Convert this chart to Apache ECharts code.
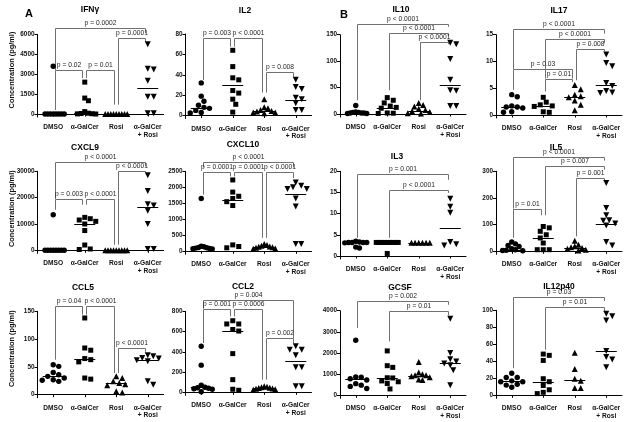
<!DOCTYPE html>
<html><head><meta charset="utf-8">
<script src="https://cdn.jsdelivr.net/npm/echarts@6/dist/echarts.min.js"></script>
<style>html,body{margin:0;padding:0;background:#fff}#c{width:632px;height:422px}</style>
</head><body><div id="c"></div>
<script>
const categories = ['DMSO', 'α-GalCer', 'Rosi', 'α-GalCer\n+ Rosi'];

// ---- IFNγ ----
const ifngValues = [[3600,0,0,0,0,0,0,0,0],[2400,1200,1000,180,60,40,20,10,0],[0,0,0,0,0,0,0,0,0],[5250,3400,3350,2500,1300,1300,50,50]];
const ifngCenters = [0, 40, 0, 1925];
const ifngTicks = [0,1500,3000,4500,6000];
const ifngTests = [[0,3,6475,3300,6100,'p = 0.0002'],[2,3,5725,700,5450,'p = 0.0001'],[0,1,3300,300,2700,'p = 0.02'],[1,2,3300,2700,700,'p = 0.01']];
// ---- IL2 ----
const il2Values = [[32,19,14,10,8,7,5,3,2.5],[64,48,37,35,24.5,22,16,11,3.3],[16,8,7,5.5,4.5,4,3,3,2.3],[35,28,26,17.5,16,12,5.5,5.5]];
const il2Centers = [7.5, 29.5, 4.5, 15];
const il2Ticks = [0,20,40,60,80];
const il2Tests = [[0,1,75.8,35,67.6,'p = 0.003'],[1,2,75.8,67.6,22.5,'p < 0.0001'],[2,3,43,22.5,38,'p = 0.008']];
// ---- IL10 ----
const il10Values = [[16,4,3,3,2,2,2,1,1],[31,26,21,15,12.5,11,2,1.5,1],[21,17,14,10,7.5,5,4,1.5,1],[135,132,104,65,45,44,15,15]];
const il10Centers = [2.5, 10.7, 6.5, 54];
const il10Ticks = [0,50,100,150];
const il10Tests = [[0,3,171,26,165,'p < 0.0001'],[1,3,154,45,147,'p < 0.0001'],[2,3,136,26,132,'p < 0.0001']];
// ---- IL17 ----
const il17Values = [[3.8,3.4,1.7,1.5,1.5,1.3,0.6,0.5],[3.3,2.4,1.9,1.7,1.6,0.6,0.5],[5.6,4.8,3.8,3.5,3.3,2.7,1.9,0.9],[11.3,9.7,9.1,6.0,5.4,4.5,4.2,4.1]];
const il17Centers = [1.5, 1.7, 3.3, 5.6];
const il17Ticks = [0,5,10,15];
const il17Tests = [[0,3,16.0,8.6,15.2,'p < 0.0001'],[1,3,14.2,6.8,13.4,'p < 0.0001'],[2,3,12.3,6.5,11.9,'p = 0.008'],[0,2,8.6,4.7,6.8,'p = 0.03'],[1,2,6.8,4.4,6.2,'p = 0.01']];
// ---- CXCL9 ----
const cxcl9Values = [[13500,0,0,0,0,0,0,0,0],[12500,12000,11500,11000,10000,7500,2000,500,300],[0,0,0,0,0,0,0,0,0],[28500,22500,17500,17000,15000,10000,500,500]];
const cxcl9Centers = [0, 10000, 0, 16500];
const cxcl9Ticks = [0,10000,20000,30000];
const cxcl9Tests = [[0,3,33500,19500,31900,'p < 0.0001'],[2,3,30000,2150,29400,'p < 0.0001'],[0,1,19500,15400,17300,'p = 0.003'],[1,2,19500,17300,2150,'p < 0.0001']];
// ---- CXCL10 ----
const cxcl10Values = [[1650,160,140,120,110,100,90,80,70],[2230,1850,1720,1650,1550,1430,200,150,110],[230,200,170,150,140,130,110,90,80],[2150,2050,2000,1950,1950,1650,1400,230,230]];
const cxcl10Centers = [125, 1600, 150, 1780];
const cxcl10Ticks = [0,500,1000,1500,2000,2500];
const cxcl10Tests = [[0,3,2790,2620,2620,'p < 0.0001'],[0,1,2470,1770,2340,'p = 0.0001'],[1,2,2470,2340,420,'p = 0.0001'],[2,3,2470,420,2290,'p < 0.0001']];
// ---- IL3 ----
const il3Values = [[3.5,3.3,3.2,3.2,3.2,3.2,3.1,2.1,1.9],[3.2,3.2,3.2,3.2,3.2,3.2,3.2,3.2,3.2,0.6],[3.1,3.1,3.1,3.1,3.1,3.1],[13.5,11.6,10.2,3.3,2.8,2.5]];
const il3Centers = [3.2, 3.2, 3.1, 6.7];
const il3Ticks = [0,5,10,15,20];
const il3Tests = [[0,3,19.3,4.3,18,'p = 0.001'],[1,3,15.7,4.3,14.9,'p < 0.0001']];
// ---- IL5 ----
const il5Values = [[35,28,22,18,10,6,4,3,2],[93,88,75,62,50,31,6,6,6],[40,25,19,15,12,10,6,3],[256,162,135,116,115,104,97,35,22]];
const il5Centers = [5, 50, 12.5, 104];
const il5Ticks = [0,100,200,300];
const il5Tests = [[0,3,354,160,340,'p < 0.0001'],[1,3,321,135,306,'p = 0.007'],[2,3,275,56,265,'p = 0.001'],[0,1,160,50,135,'p = 0.01']];
// ---- CCL5 ----
const ccl5Values = [[54,51,40,36,33,30,27,26,24],[138,84,80,65,63,59,30,28],[33,30,24,21,19,17,6,4],[71,69,66,65,62,60,24,18]];
const ccl5Centers = [33, 64, 21, 62];
const ccl5Ticks = [0,50,100,150];
const ccl5Tests = [[0,1,160,63,144,'p = 0.04'],[1,2,160,144,39,'p < 0.0001'],[2,3,84,39,77,'p < 0.0001']];
// ---- CCL2 ----
const ccl2Values = [[455,268,70,50,45,40,35,30,5],[707,675,675,620,605,382,125,30,20],[60,55,50,45,42,38,35,30,25],[455,420,420,365,247,247,60,60]];
const ccl2Centers = [50, 605, 43, 306];
const ccl2Ticks = [0,200,400,600,800];
const ccl2Tests = [[0,3,911,826,536,'p = 0.004'],[0,1,826,487,750,'p = 0.001'],[1,2,826,750,125,'p = 0.0006'],[2,3,536,125,487,'p = 0.002']];
// ---- GCSF ----
const gcsfValues = [[2600,870,850,780,720,550,480,420,320],[2100,1400,1320,830,820,680,640,560,300],[1580,1080,1000,950,950,900,850,750,720],[3620,2000,1700,1600,1500,1420,1180,480]];
const gcsfCenters = [770, 820, 930, 1520];
const gcsfTicks = [0,1000,2000,3000,4000];
const gcsfTests = [[0,3,4440,3180,4280,'p = 0.002'],[1,3,3970,2550,3780,'p = 0.01']];
// ---- IL12p40 ----
const il12Values = [[26,21,21,17,16,16,13,12,9.5],[48.5,47,41,19.5,16,11.5,6.5,3.5,2],[50,31,19.5,17,8.6,8.6],[96,93,88,52,45,42,33]];
const il12Centers = [16.5, 15.7, 18.3, 52];
const il12Ticks = [0,20,40,60,80,100];
const il12Tests = [[0,3,115.7,32,111,'p = 0.03'],[1,3,103.5,53.7,98.8,'p = 0.01']];

const panels = [
  {name:'IFNγ', values:ifngValues, centers:ifngCenters, ticks:ifngTicks, tests:ifngTests},
  {name:'IL2', values:il2Values, centers:il2Centers, ticks:il2Ticks, tests:il2Tests},
  {name:'IL10', values:il10Values, centers:il10Centers, ticks:il10Ticks, tests:il10Tests},
  {name:'IL17', values:il17Values, centers:il17Centers, ticks:il17Ticks, tests:il17Tests},
  {name:'CXCL9', values:cxcl9Values, centers:cxcl9Centers, ticks:cxcl9Ticks, tests:cxcl9Tests},
  {name:'CXCL10', values:cxcl10Values, centers:cxcl10Centers, ticks:cxcl10Ticks, tests:cxcl10Tests},
  {name:'IL3', values:il3Values, centers:il3Centers, ticks:il3Ticks, tests:il3Tests},
  {name:'IL5', values:il5Values, centers:il5Centers, ticks:il5Ticks, tests:il5Tests},
  {name:'CCL5', values:ccl5Values, centers:ccl5Centers, ticks:ccl5Ticks, tests:ccl5Tests},
  {name:'CCL2', values:ccl2Values, centers:ccl2Centers, ticks:ccl2Ticks, tests:ccl2Tests},
  {name:'GCSF', values:gcsfValues, centers:gcsfCenters, ticks:gcsfTicks, tests:gcsfTests},
  {name:'IL12p40', values:il12Values, centers:il12Centers, ticks:il12Ticks, tests:il12Tests}
];

// ---- layout (pixels) ----
const colLeft = [37.5, 185.5, 340, 496];
const plotW = 126;
const topPx  = [34.3,34,34.7,34.7, 171.3,171.3,171.3,171.3, 311.3,311.3,310.7,310.3];
const zeroPx = [114,115.5,114,115, 250.3,251.3,256,251.3, 394.7,392.3,395.3,395.3];
const titlePos = [[90,10],[245,10.7],[401,9.5],[559,10.7],[85,148],[243,145],[397,156.3],[556,148],[83,288],[243,286.3],[400,287.3],[559,286.3]];
const FONT = '"Liberation Sans", Arial, sans-serif';
const symbols = ['circle','rect','triangle','triangle'];
const symRot = [0,0,0,180];
const symSize = [5.4,5,6,6];

function swarm(vals, ppu) {
  const order = vals.map((v,i)=>i).sort((a,b)=>vals[b]-vals[a]);
  const off = new Array(vals.length).fill(0);
  const placed = [];
  const D = 5.6, step = 3;
  order.forEach(i => {
    const y = vals[i]*ppu;
    for (let k=0;k<60;k++) {
      const c = k===0 ? 0 : (k%2 ? 1 : -1)*Math.ceil(k/2)*step;
      if (placed.every(p => Math.hypot(p.x-c, p.y-y) >= D)) { off[i]=c; placed.push({x:c,y:y}); break; }
    }
  });
  const m = Math.max(...off.map(Math.abs));
  const cap = 11;
  if (m > cap) for (let i=0;i<off.length;i++) off[i] *= cap/m;
  return off;
}

const grids=[], xAxes=[], yAxes=[], series=[], graphics=[];
panels.forEach((p, i) => {
  const col = i%4;
  const top = topPx[i], zero = zeroPx[i];
  const max = p.ticks[p.ticks.length-1];
  const ppu = (zero-top)/max;
  const ext = 3;
  const min = -ext/ppu;
  grids.push({left: colLeft[col], top: top, width: plotW, height: zero-top+ext});
  xAxes.push({type:'category', gridIndex:i, data:categories, offset:2.5, boundaryGap:true,
    axisLine:{lineStyle:{color:'#000', width:1}},
    axisTick:{show:true, alignWithLabel:true, length:2.5, lineStyle:{color:'#000'}},
    axisLabel:{interval:0, color:'#111', fontSize:6.6, fontWeight:'bold', fontFamily:FONT, margin:4, lineHeight:7.5},
    splitLine:{show:false}});
  yAxes.push({type:'value', gridIndex:i, min:min, max:max,
    axisLine:{show:true, lineStyle:{color:'#000', width:1}},
    axisTick:{show:true, length:3, customValues:p.ticks, lineStyle:{color:'#000'}},
    axisLabel:{customValues:p.ticks, formatter:v => String(v), color:'#111', fontSize:6.4, fontWeight:'bold', fontFamily:FONT, margin:3},
    splitLine:{show:false}});
  // points
  const data = [];
  p.values.forEach((vals, g) => {
    const off = swarm(vals, ppu);
    vals.forEach((v, k) => data.push({value:[g, v], symbol:symbols[g], symbolRotate:symRot[g], symbolSize:symSize[g], symbolOffset:[off[k],0]}));
  });
  series.push({type:'scatter', xAxisIndex:i, yAxisIndex:i, data:data, itemStyle:{color:'#000', opacity:1}, z:3, silent:true, clip:false});
  // center lines
  series.push({type:'custom', xAxisIndex:i, yAxisIndex:i, z:4, clip:false, silent:true,
    data: p.centers.map((c,g)=>[g,c]),
    renderItem: (params, api) => {
      const pt = api.coord([api.value(0), api.value(1)]);
      const y = Math.round(pt[1])+0.5;
      return {type:'line', shape:{x1:pt[0]-10.5, y1:y, x2:pt[0]+10.5, y2:y}, style:{stroke:'#000', lineWidth:1}};
    }});
  // comparison brackets
  const tests = p.tests;
  series.push({type:'custom', xAxisIndex:i, yAxisIndex:i, z:2, clip:false, silent:true,
    data: tests.map(t=>[t[0], t[2]]),
    renderItem: (params, api) => {
      const t = tests[params.dataIndex];
      const a = api.coord([t[0], t[2]]), b = api.coord([t[1], t[2]]);
      const a2 = api.coord([t[0], t[3]]), b2 = api.coord([t[1], t[4]]);
      const gap = 1.5;
      const x1 = Math.round(a[0]+gap)+0.5, x2 = Math.round(b[0]-gap)-0.5, y = Math.round(a[1])+0.5;
      return {type:'group', children:[
        {type:'polyline', shape:{points:[[x1,a2[1]],[x1,y],[x2,y],[x2,b2[1]]]}, style:{stroke:'#707070', fill:null, lineWidth:1}},
        {type:'text', x:(x1+x2)/2, y:y-1.5, style:{text:t[5], font:'6.7px '+FONT, fill:'#222', align:'center', verticalAlign:'bottom'}}
      ]};
    }});
  graphics.push({type:'text', x:titlePos[i][0], y:titlePos[i][1], style:{text:p.name, font:'bold 8.5px '+FONT, fill:'#000', align:'center', verticalAlign:'middle'}});
});

const yNameY = [70, 208.7, 348.7];
yNameY.forEach(yc => graphics.push({type:'text', x:11.5, y:yc, rotation:Math.PI/2,
  style:{text:'Concentration (pg/ml)', font:'bold 7.4px '+FONT, fill:'#111', align:'center', verticalAlign:'middle'}}));
graphics.push({type:'text', x:29, y:14, style:{text:'A', font:'bold 11px '+FONT, fill:'#000', align:'center', verticalAlign:'middle'}});
graphics.push({type:'text', x:344, y:15, style:{text:'B', font:'bold 11px '+FONT, fill:'#000', align:'center', verticalAlign:'middle'}});

const chart = echarts.init(document.getElementById('c'), null, {renderer:'canvas'});
chart.setOption({animation:false, backgroundColor:'#fff', grid:grids, xAxis:xAxes, yAxis:yAxes, series:series, graphic:graphics});
</script></body></html>
